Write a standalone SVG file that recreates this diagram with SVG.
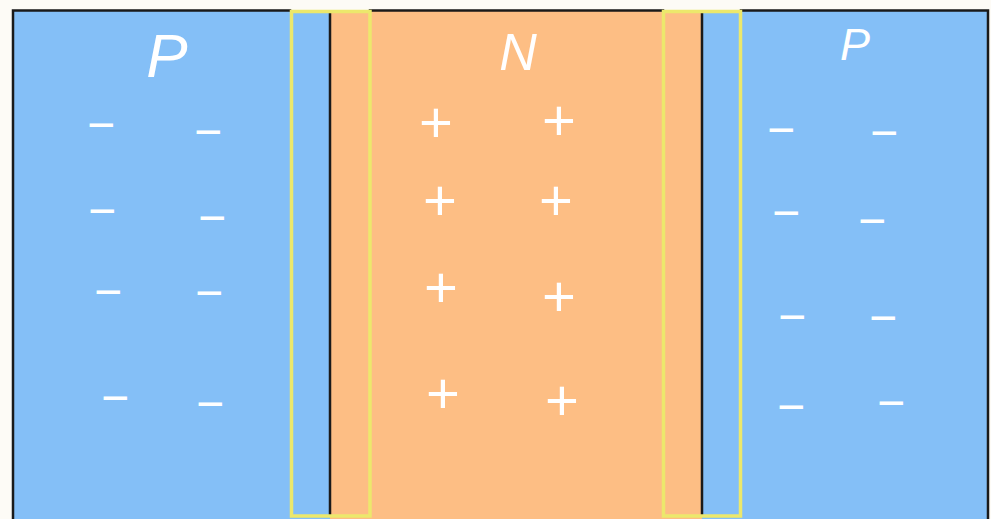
<svg xmlns="http://www.w3.org/2000/svg" width="991" height="519" viewBox="0 0 991 519">
<style>
.blue{fill:#84bff7}
.orange{fill:#fdbe84}
.edge{stroke:#1a1a1a;stroke-width:2.5;fill:none;stroke-linecap:square}
.zone{fill:none;stroke:#ece86c;stroke-width:3.5}
.lbl{fill:#ffffff;font-family:"Liberation Sans",Arial,sans-serif;font-style:italic;text-anchor:middle}
.m{fill:#ffffff;font-family:"Liberation Sans",Arial,sans-serif;font-size:48px;text-anchor:middle}
.p{fill:#ffffff;font-family:"Liberation Sans",Arial,sans-serif;font-size:58px;text-anchor:middle}
</style>
<rect x="0" y="0" width="991" height="519" fill="#fdfbf6"/>
<g id="p-left">
<rect class="blue" x="13" y="11" width="317" height="508"/>
<text class="lbl" x="167" y="77" font-size="62">P</text>
<text class="m" x="101" y="141">−</text>
<text class="m" x="208" y="148">−</text>
<text class="m" x="102" y="227">−</text>
<text class="m" x="212" y="234">−</text>
<text class="m" x="108" y="308">−</text>
<text class="m" x="209" y="309">−</text>
<text class="m" x="115" y="414">−</text>
<text class="m" x="210" y="420">−</text>
</g>
<g id="n-middle">
<rect class="orange" x="330" y="11" width="372" height="508"/>
<text class="lbl" x="518" y="70" font-size="52">N</text>
<text class="p" x="436" y="142">+</text>
<text class="p" x="559" y="140">+</text>
<text class="p" x="440" y="220">+</text>
<text class="p" x="556" y="220">+</text>
<text class="p" x="441" y="307">+</text>
<text class="p" x="559" y="316">+</text>
<text class="p" x="443" y="413">+</text>
<text class="p" x="562" y="420">+</text>
</g>
<g id="p-right">
<rect class="blue" x="702" y="11" width="286" height="508"/>
<text class="lbl" x="855" y="60" font-size="45">P</text>
<text class="m" x="781" y="146">−</text>
<text class="m" x="884" y="149">−</text>
<text class="m" x="786" y="229">−</text>
<text class="m" x="872" y="237">−</text>
<text class="m" x="792" y="333">−</text>
<text class="m" x="883" y="334">−</text>
<text class="m" x="791" y="423">−</text>
<text class="m" x="891" y="419">−</text>
</g>
<g id="connectors">
<path class="edge" d="M13 10.5 H290 M370 10.5 H663 M741 10.5 H988 M13 10.5 V519 M988 10.5 V519"/>
<path class="edge" d="M330 13 V515 M702 13 V515"/>
</g>
<g id="depletion-left">
<rect class="zone" x="291.5" y="11.5" width="78.5" height="504.5"/>
</g>
<g id="depletion-right">
<rect class="zone" x="663.5" y="11.5" width="77" height="504.5"/>
</g>
</svg>
